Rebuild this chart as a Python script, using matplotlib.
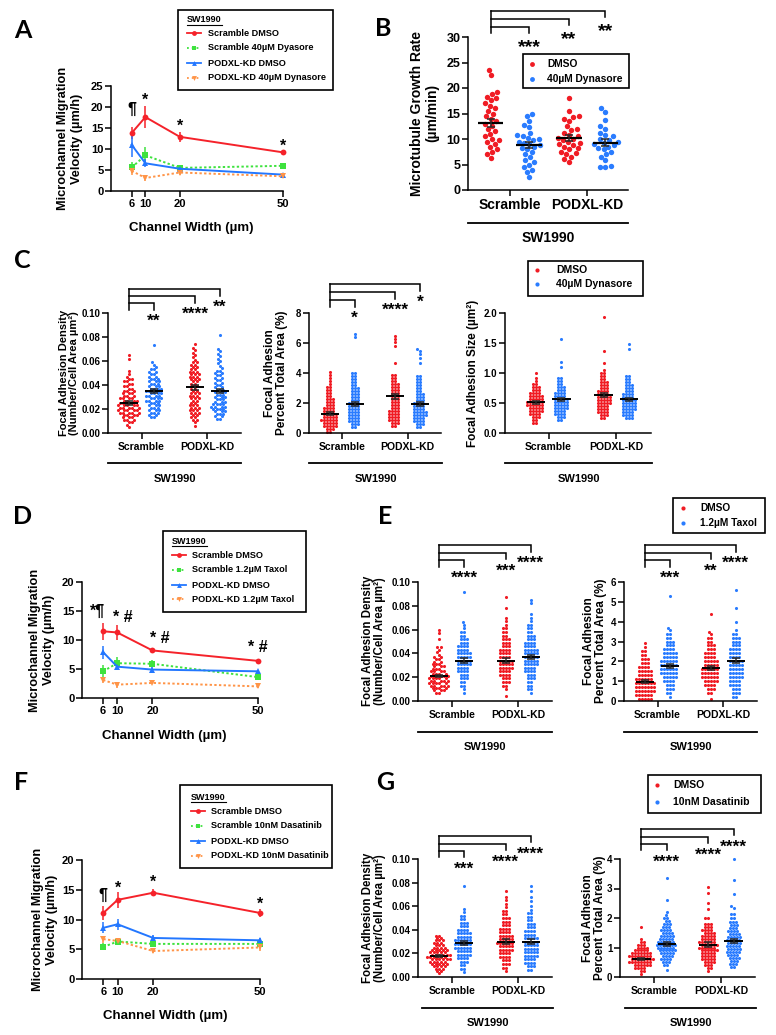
import numpy as np
import matplotlib
matplotlib.use('Agg')
import matplotlib.pyplot as plt
from matplotlib.lines import Line2D
from matplotlib.patches import Rectangle
from matplotlib.ticker import FormatStrFormatter
from matplotlib.transforms import blended_transform_factory, offset_copy

plt.rcParams['font.family'] = ['Liberation Sans', 'DejaVu Sans']
plt.rcParams['font.weight'] = 'bold'
plt.rcParams['axes.labelweight'] = 'bold'

W, H = 776, 1035

RED = '#f01c24'
BLUE = '#2a7cff'
L_RED = '#f5222a'
L_GREEN = '#3ee23e'
L_BLUE = '#2377ff'
L_ORANGE = '#ff9447'

# ---------------- line plots (A, D, F) ----------------
widths = [6, 10, 20, 50]

a_scr_dmso = [13.8, 17.6, 12.9, 9.2]
a_scr_dmso_err = [1.5, 2.6, 1.2, 0.4]
a_scr_dyn = [5.6, 8.5, 5.5, 6.0]
a_scr_dyn_err = [1.4, 2.0, 0.6, 0.5]
a_kd_dmso = [11.0, 6.6, 5.3, 3.9]
a_kd_dmso_err = [2.8, 1.0, 0.5, 0.4]
a_kd_dyn = [4.8, 3.1, 4.4, 3.5]
a_kd_dyn_err = [1.0, 0.8, 0.5, 0.4]

d_scr_dmso = [11.5, 11.3, 8.2, 6.4]
d_scr_dmso_err = [1.5, 1.3, 0.5, 0.2]
d_scr_tax = [4.6, 6.0, 5.9, 3.6]
d_scr_tax_err = [1.1, 1.0, 0.6, 0.4]
d_kd_dmso = [7.9, 5.4, 4.9, 4.6]
d_kd_dmso_err = [1.1, 0.6, 0.4, 0.2]
d_kd_tax = [3.1, 2.3, 2.6, 2.0]
d_kd_tax_err = [0.5, 0.5, 0.2, 0.2]

f_scr_dmso = [11.1, 13.3, 14.5, 11.1]
f_scr_dmso_err = [1.1, 1.3, 0.6, 0.6]
f_scr_das = [5.4, 6.3, 5.9, 5.9]
f_scr_das_err = [0.6, 0.6, 0.5, 0.5]
f_kd_dmso = [8.6, 9.2, 6.9, 6.5]
f_kd_dmso_err = [0.9, 0.9, 0.5, 0.4]
f_kd_das = [6.7, 6.4, 4.7, 5.3]
f_kd_das_err = [0.6, 0.5, 0.3, 0.6]

# ---------------- panel B (um/min, single cells) ----------------
b_scr_dmso = [23.5, 22.5, 19.2, 18.8, 18.3, 18.0, 17.6, 17.0, 16.5, 16.0, 15.5, 15.0,
              14.5, 14.0, 13.5, 13.0, 12.6, 12.0, 11.5, 11.0, 10.5, 10.0, 9.8, 9.5,
              9.0, 8.5, 8.0, 7.5, 7.0, 6.2]
b_scr_dyn = [15.0, 14.5, 13.5, 12.8, 12.3, 11.2, 10.8, 10.5, 10.2, 10.0, 9.8, 9.5, 9.2,
             9.0, 8.8, 8.5, 8.2, 8.0, 7.5, 7.0, 6.5, 5.8, 5.5, 5.0, 4.5, 4.0, 3.5, 2.5]
b_kd_dmso = [18.0, 15.5, 14.5, 14.3, 14.0, 13.5, 12.5, 12.0, 11.8, 11.2, 10.8, 10.5,
             10.2, 10.0, 9.8, 9.5, 9.2, 9.0, 8.8, 8.5, 8.2, 8.0, 7.5, 7.2, 7.0, 6.5, 6.0, 5.5]
b_kd_dyn = [16.0, 15.2, 13.8, 12.5, 12.0, 11.2, 10.8, 10.5, 10.0, 9.8, 9.5, 9.2, 9.0,
            8.8, 8.5, 8.2, 8.0, 7.5, 7.0, 6.5, 5.8, 4.8, 4.6, 4.5]
b_mean = [13.2, 8.8, 10.2, 9.3]
b_sem = [0.8, 0.6, 0.6, 0.7]

# ---------------- dot plots: value levels and dot counts at each level ----------------
# C density (x1e-3 number/um2)
c1_scr_dmso_lv = [5, 7, 9, 11, 13, 15, 17, 19, 21, 23, 25, 27, 29, 31, 33, 35, 37, 39, 41, 43, 45, 47, 49, 52, 62, 65]
c1_scr_dmso_n = [1, 1, 2, 3, 3, 4, 5, 5, 5, 5, 4, 4, 4, 3, 3, 3, 2, 2, 2, 2, 2, 1, 1, 1, 1, 1]
c1_scr_dyn_lv = [13, 15, 17, 19, 21, 23, 25, 27, 29, 31, 33, 35, 37, 39, 41, 43, 45, 47, 49, 51, 53, 55, 57, 59, 73]
c1_scr_dyn_n = [2, 2, 3, 3, 3, 3, 3, 4, 4, 4, 4, 4, 4, 3, 3, 3, 3, 2, 2, 2, 2, 1, 1, 1, 1]
c1_kd_dmso_lv = [6, 9, 11, 13, 15, 17, 19, 21, 23, 25, 27, 29, 31, 33, 35, 37, 39, 41, 43, 45, 47, 49, 51,
                 53, 55, 57, 59, 61, 63, 65, 67, 69, 71, 74]
c1_kd_dmso_n = [1, 1, 2, 2, 2, 3, 3, 3, 3, 2, 2, 3, 3, 3, 2, 2, 2, 2, 2, 3, 3, 3, 3, 2, 2, 2, 2, 1, 1, 1, 1, 1, 1, 1]
c1_kd_dyn_lv = [12, 14, 16, 18, 20, 22, 24, 26, 28, 30, 32, 34, 36, 38, 40, 42, 44, 46, 48, 50, 52, 54, 56,
                58, 60, 62, 64, 66, 68, 70, 82]
c1_kd_dyn_n = [2, 2, 3, 3, 4, 4, 4, 3, 3, 3, 3, 3, 3, 2, 2, 2, 2, 2, 2, 2, 2, 1, 1, 1, 1, 1, 1, 1, 1, 1, 1]
c1_mean = [0.025, 0.035, 0.038, 0.035]
c1_sem = [0.0015, 0.002, 0.0022, 0.002]

# C percent area (x0.1 %)
c2_scr_dmso_lv = [1, 3, 5, 7, 9, 11, 13, 15, 17, 19, 21, 23, 25, 27, 29, 31, 33, 35, 37, 39, 41]
c2_scr_dmso_n = [2, 3, 5, 5, 6, 5, 5, 4, 4, 3, 3, 3, 2, 2, 2, 2, 1, 1, 1, 1, 1]
c2_scr_dyn_lv = [4, 6, 8, 10, 12, 14, 16, 18, 20, 22, 24, 26, 28, 30, 32, 34, 36, 38, 40, 64, 66]
c2_scr_dyn_n = [2, 3, 4, 4, 4, 4, 4, 4, 4, 3, 3, 3, 3, 3, 2, 2, 2, 2, 2, 1, 1]
c2_kd_dmso_lv = [5, 7, 9, 11, 13, 15, 17, 19, 21, 23, 25, 27, 29, 31, 33, 35, 37, 39, 47, 58, 61, 63, 65]
c2_kd_dmso_n = [2, 3, 4, 4, 4, 4, 3, 3, 3, 3, 3, 3, 3, 3, 3, 2, 2, 2, 1, 1, 1, 1, 1]
c2_kd_dyn_lv = [4, 6, 8, 10, 12, 14, 16, 18, 20, 22, 24, 26, 28, 30, 32, 34, 36, 38, 47, 50, 53, 55, 56]
c2_kd_dyn_n = [2, 3, 4, 4, 5, 5, 4, 4, 4, 3, 3, 3, 2, 2, 2, 2, 2, 2, 1, 1, 1, 1, 1]
c2_mean = [1.3, 1.95, 2.45, 1.95]
c2_sem = [0.1, 0.15, 0.18, 0.15]

# C adhesion size (x0.01 um2)
c3_scr_dmso_lv = [17, 22, 27, 32, 37, 42, 47, 52, 57, 62, 67, 72, 77, 82, 87, 92, 100]
c3_scr_dmso_n = [2, 2, 3, 4, 5, 5, 6, 6, 5, 5, 4, 3, 3, 2, 1, 1, 1]
c3_scr_dyn_lv = [22, 27, 32, 37, 42, 47, 52, 57, 62, 67, 72, 77, 82, 87, 92, 110, 118, 157]
c3_scr_dyn_n = [2, 3, 4, 4, 5, 5, 5, 5, 4, 4, 3, 3, 2, 2, 2, 1, 1, 1]
c3_kd_dmso_lv = [25, 30, 35, 40, 45, 50, 55, 60, 65, 70, 75, 80, 85, 90, 95, 100, 105, 117, 137, 193]
c3_kd_dmso_n = [2, 3, 4, 4, 4, 5, 5, 5, 4, 4, 3, 3, 3, 2, 2, 2, 1, 1, 1, 1]
c3_kd_dyn_lv = [25, 30, 35, 40, 45, 50, 55, 60, 65, 70, 75, 80, 85, 90, 95, 140, 148]
c3_kd_dyn_n = [3, 4, 4, 5, 5, 5, 5, 4, 4, 3, 3, 3, 2, 2, 2, 1, 1]
c3_mean = [0.51, 0.56, 0.63, 0.56]
c3_sem = [0.02, 0.03, 0.035, 0.03]

# E density (x1e-3)
e1_scr_dmso_lv = [7, 9, 11, 13, 15, 17, 19, 21, 23, 25, 27, 29, 31, 33, 35, 37, 39, 41, 43, 45, 52, 57, 60]
e1_scr_dmso_n = [2, 3, 4, 5, 5, 5, 5, 5, 4, 4, 3, 3, 3, 2, 2, 2, 1, 1, 1, 2, 1, 1, 1]
e1_scr_tax_lv = [7, 10, 13, 16, 19, 22, 25, 28, 31, 34, 37, 40, 43, 46, 49, 52, 55, 58, 61, 64, 66, 92]
e1_scr_tax_n = [1, 1, 2, 2, 3, 3, 4, 4, 5, 5, 5, 5, 4, 4, 3, 3, 2, 2, 1, 1, 1, 1]
e1_kd_dmso_lv = [4, 10, 13, 16, 19, 22, 25, 28, 31, 34, 37, 40, 43, 46, 49, 52, 55, 58, 61, 64, 67, 70, 78, 87]
e1_kd_dmso_n = [1, 1, 2, 3, 3, 4, 4, 5, 5, 5, 4, 4, 4, 3, 3, 3, 2, 2, 2, 1, 1, 1, 1, 1]
e1_kd_tax_lv = [7, 10, 13, 16, 19, 22, 25, 28, 31, 34, 37, 40, 43, 46, 49, 52, 55, 58, 61, 64, 67, 70, 73, 82, 85]
e1_kd_tax_n = [1, 2, 2, 2, 3, 3, 4, 4, 5, 5, 5, 5, 5, 4, 4, 3, 3, 2, 2, 2, 1, 1, 1, 1, 1]
e1_mean = [0.021, 0.034, 0.034, 0.037]
e1_sem = [0.0012, 0.002, 0.002, 0.002]

# E percent area (x0.1 %)
e2_scr_dmso_lv = [1, 3, 5, 7, 9, 11, 13, 15, 17, 19, 21, 23, 25, 27, 29]
e2_scr_dmso_n = [5, 6, 7, 7, 7, 6, 5, 5, 4, 3, 3, 2, 2, 1, 1]
e2_scr_tax_lv = [2, 4, 6, 8, 10, 12, 14, 16, 18, 20, 22, 24, 26, 28, 30, 32, 34, 36, 37, 53]
e2_scr_tax_n = [1, 2, 3, 3, 4, 5, 6, 6, 6, 6, 5, 5, 4, 3, 3, 2, 2, 1, 1, 1]
e2_kd_dmso_lv = [1, 4, 6, 8, 10, 12, 14, 16, 18, 20, 22, 24, 26, 28, 30, 32, 34, 35, 44]
e2_kd_dmso_n = [1, 2, 3, 4, 5, 6, 6, 6, 5, 5, 4, 4, 3, 3, 2, 2, 1, 1, 1]
e2_kd_tax_lv = [2, 4, 6, 8, 10, 12, 14, 16, 18, 20, 22, 24, 26, 28, 30, 32, 34, 36, 40, 47, 56]
e2_kd_tax_n = [2, 3, 3, 4, 4, 5, 5, 5, 5, 5, 4, 4, 4, 3, 3, 3, 2, 1, 1, 1, 1]
e2_mean = [0.98, 1.76, 1.64, 2.04]
e2_sem = [0.07, 0.12, 0.1, 0.13]

# G density (x1e-3)
g1_scr_dmso_lv = [3, 5, 7, 9, 11, 13, 15, 17, 19, 21, 23, 25, 27, 29, 31, 33, 35]
g1_scr_dmso_n = [1, 2, 3, 4, 5, 5, 6, 6, 6, 5, 5, 4, 3, 3, 3, 2, 2]
g1_scr_das_lv = [4, 7, 10, 13, 16, 19, 22, 25, 28, 31, 34, 37, 40, 43, 46, 49, 52, 55, 58, 77]
g1_scr_das_n = [1, 2, 2, 3, 4, 5, 5, 6, 6, 6, 5, 5, 4, 3, 3, 2, 2, 1, 1, 1]
g1_kd_dmso_lv = [5, 8, 11, 14, 17, 20, 23, 26, 29, 32, 35, 38, 41, 44, 47, 50, 53, 56, 59, 62, 65, 68, 73]
g1_kd_dmso_n = [1, 2, 3, 3, 4, 4, 5, 5, 6, 5, 5, 4, 4, 3, 3, 3, 2, 2, 1, 1, 1, 1, 1]
g1_kd_das_lv = [6, 9, 12, 15, 18, 21, 24, 27, 30, 33, 36, 39, 42, 45, 48, 51, 54, 57, 60, 64, 68, 73, 77]
g1_kd_das_n = [2, 3, 4, 4, 5, 5, 5, 5, 5, 5, 4, 4, 3, 3, 2, 2, 2, 1, 1, 1, 1, 1, 1]
g1_mean = [0.018, 0.029, 0.030, 0.030]
g1_sem = [0.001, 0.0018, 0.0018, 0.0018]

# G percent area (x0.01 %)
g2_scr_dmso_lv = [10, 20, 30, 40, 50, 60, 70, 80, 90, 100, 110, 120, 130, 170]
g2_scr_dmso_n = [1, 2, 4, 6, 8, 8, 8, 7, 5, 4, 3, 2, 1, 1]
g2_scr_das_lv = [25, 40, 50, 60, 70, 80, 90, 100, 110, 120, 130, 140, 150, 160, 170, 180, 190, 200,
                 210, 220, 260, 335]
g2_scr_das_n = [1, 2, 3, 4, 4, 5, 6, 6, 7, 6, 5, 5, 4, 4, 3, 3, 2, 2, 1, 1, 1, 1]
g2_kd_dmso_lv = [20, 30, 40, 50, 60, 70, 80, 90, 100, 110, 120, 130, 140, 150, 160, 170, 180, 200,
                 230, 250, 285, 305]
g2_kd_dmso_n = [1, 2, 3, 4, 5, 5, 5, 6, 6, 6, 6, 5, 5, 4, 4, 3, 3, 2, 1, 1, 1, 1]
g2_kd_das_lv = [35, 45, 55, 65, 75, 85, 95, 105, 115, 125, 135, 145, 155, 165, 175, 185, 200, 215,
                235, 240, 280, 330, 400]
g2_kd_das_n = [2, 3, 3, 4, 4, 5, 5, 5, 5, 5, 5, 4, 4, 3, 3, 3, 2, 2, 1, 1, 1, 1, 1]
g2_mean = [0.61, 1.11, 1.10, 1.22]
g2_sem = [0.03, 0.07, 0.07, 0.08]


fig = plt.figure(figsize=(W / 100, H / 100), dpi=100)


def fx(x):
    return x / W


def fy(y):
    return 1 - y / H


def add_box(x0, x1, ytop, ybot):
    ax = fig.add_axes([fx(x0), fy(ybot), (x1 - x0) / W, (ybot - ytop) / H])
    ax.spines[['top', 'right']].set_visible(False)
    ax.spines[['left', 'bottom']].set_linewidth(1.1)
    ax.tick_params(width=1.1, length=4, pad=1.5)
    ax.patch.set_alpha(0)
    return ax


def ftext(x, y, s, fs, **kw):
    kw.setdefault('ha', 'center')
    kw.setdefault('va', 'center')
    return fig.text(fx(x), fy(y), s, fontsize=fs, **kw)


def mark(x, y, s, fs, transform):
    # place so that the glyph centre sits at y
    k = 0.58 if set(s) <= {'*'} else 0.33
    tr = offset_copy(transform, fig=fig, y=-k * fs, units='points')
    fig.text(x, y, s, fontsize=fs, ha='center', va='baseline', transform=tr)


def beeswarm(y_px, d):
    xs = np.zeros(len(y_px))
    px, py = [], []
    for i in np.argsort(y_px):
        y = y_px[i]
        cands = [0.0]
        for a, b in zip(px, py):
            dy = abs(b - y)
            if dy < d:
                dx = np.sqrt(d * d - dy * dy)
                cands += [a + dx, a - dx]
        cands.sort(key=lambda c: (round(abs(c), 3), c))
        for c in cands:
            if all((c - a) ** 2 + (y - b) ** 2 >= d * d - 1e-6 for a, b in zip(px, py)):
                break
        xs[i] = c
        px.append(c)
        py.append(y)
    return xs


def line_panel(box, series, ymax, ylabel_x, marks, xlabel_y):
    x0, x1, yt, yb = box
    ax = add_box(x0, x1, yt, yb)
    for vals, errs, color, ls, mk in series:
        ax.errorbar(widths, vals, yerr=errs, color=color, ls=ls, lw=1.4, marker=mk, ms=4.2, mew=0,
                    capsize=3, capthick=1.1, elinewidth=1.1, clip_on=False)
    ax.set_xlim(0, 50)
    ax.set_ylim(0, ymax)
    ax.set_xticks(widths)
    ax.set_yticks(np.arange(0, ymax + 1, 5))
    ax.tick_params(labelsize=8)
    for x, y, s in marks:
        mark(x, y, s, 11.5, ax.transData)
    ftext((x0 + x1) / 2 - 6, xlabel_y, 'Channel Width (µm)', 9.5)
    ftext(ylabel_x, (yt + yb) / 2, 'Microchannel Migration\nVelocity (µm/h)', 9.2, rotation=90,
          multialignment='center', linespacing=1.15)
    return ax


def line_legend(x0, x1, y0, y1, entries, hx, tx, title_y, row_y):
    fig.add_artist(Rectangle((fx(x0), fy(y1)), (x1 - x0) / W, (y1 - y0) / H, transform=fig.transFigure,
                             fill=False, lw=1.2, ec='black'))
    t = ftext(hx, title_y, 'SW1990', 6.5, ha='left')
    fig.canvas.draw()
    bb = t.get_window_extent()
    fig.add_artist(Line2D([bb.x0 / W, bb.x1 / W], [fy(title_y + 5), fy(title_y + 5)], lw=0.8, color='black'))
    for (label, color, ls, mk), y in zip(entries, row_y):
        fig.add_artist(Line2D([fx(hx), fx(hx + 14)], [fy(y), fy(y)], color=color, ls=ls, lw=1.3))
        fig.add_artist(Line2D([fx(hx + 7)], [fy(y)], color=color, marker=mk, ms=3.5, mew=0))
        ftext(tx, y, label, 6.6, ha='left')


def dot_legend(x0, x1, y0, y1, labels, dot_x, text_x, row_y, fs, ms):
    fig.add_artist(Rectangle((fx(x0), fy(y1)), (x1 - x0) / W, (y1 - y0) / H, transform=fig.transFigure,
                             fill=False, lw=1.2, ec='black'))
    for label, color, y in zip(labels, [RED, BLUE], row_y):
        fig.add_artist(Line2D([fx(dot_x)], [fy(y)], color=color, marker='o', ms=ms, mew=0, ls='none'))
        ftext(text_x, y, label, fs, ha='left')


POS = [0.0, 1.0, 2.65, 3.65]


def dot_panel(box, groups, means, sems, ymax, ystep, fmt, xlim=(-0.85, 4.5), pos=POS,
              d_px=3.0, s=5.0, hw=0.36, cat_fs=7.5, tick_fs=7, mean_lw=1.4):
    x0, x1, yt, yb = box
    ax = add_box(x0, x1, yt, yb)
    ax.set_xlim(*xlim)
    ax.set_ylim(0, ymax)
    ppx = (x1 - x0) / (xlim[1] - xlim[0])
    ppy = (yb - yt) / ymax
    for p, vals, c in zip(pos, groups, [RED, BLUE, RED, BLUE]):
        vals = np.asarray(vals, dtype=float)
        offs = beeswarm(vals * ppy, d_px) / ppx
        ax.scatter(p + offs, vals, s=s, color=c, lw=0, zorder=2, clip_on=False)
    for p, m, e in zip(pos, means, sems):
        ax.hlines(m, p - hw, p + hw, color='black', lw=mean_lw, zorder=4)
        ax.errorbar([p], [m], yerr=[e], fmt='none', ecolor='#2a2a2a', capsize=3, elinewidth=1.1,
                    capthick=1.1, zorder=4)
    ax.set_xticks([(pos[0] + pos[1]) / 2, (pos[2] + pos[3]) / 2])
    ax.set_xticklabels(['Scramble', 'PODXL-KD'], fontsize=cat_fs)
    ax.set_yticks(np.arange(0, ymax + ystep / 2, ystep))
    ax.yaxis.set_major_formatter(FormatStrFormatter(fmt))
    ax.tick_params(axis='y', labelsize=tick_fs)
    ax.tick_params(axis='x', pad=2.5)
    return ax


def brackets(ax, pos, top, gap, drop, star_gap, labels, fs):
    tr = blended_transform_factory(ax.transData, fig.transFigure)
    targets = [pos[3], pos[2], pos[1]]
    for k, (xt, lab) in enumerate(zip(targets, labels[::-1])):
        y = top + k * gap
        ax.plot([pos[0], xt, xt], [fy(y), fy(y), fy(y + drop)], transform=tr, color='black', lw=1.1,
                clip_on=False, solid_joinstyle='miter')
        mark(xt, fy(y + drop + star_gap), lab, fs, tr)
    ax.plot([pos[0], pos[0]], [fy(top), fy(top + 2 * gap + drop)], transform=tr, color='black', lw=1.1,
            clip_on=False)


def group_line(x0, x1, y_line, y_text, fs):
    fig.add_artist(Line2D([fx(x0), fx(x1)], [fy(y_line), fy(y_line)], color='black', lw=1.3))
    ftext((x0 + x1) / 2, y_text, 'SW1990', fs)


def lv(levels, counts):
    return np.repeat(levels, counts)


# ---------------- Panel A ----------------
line_panel((111, 283, 86, 191),
           [(a_scr_dmso, a_scr_dmso_err, L_RED, '-', 'o'),
            (a_scr_dyn, a_scr_dyn_err, L_GREEN, (0, (1.2, 1.2)), 's'),
            (a_kd_dmso, a_kd_dmso_err, L_BLUE, '-', '^'),
            (a_kd_dyn, a_kd_dyn_err, L_ORANGE, (0, (1.2, 1.2)), 'v')],
           25, 70, [(6, 19.5, '¶'), (10, 22.8, '*'), (20, 16.6, '*'), (50, 11.8, '*')], 228)
line_legend(178, 333, 10, 90,
            [('Scramble DMSO', L_RED, '-', 'o'), ('Scramble 40µM Dyasore', L_GREEN, ':', 's'),
             ('PODXL-KD DMSO', L_BLUE, '-', '^'), ('PODXL-KD 40µM Dynasore', L_ORANGE, ':', 'v')],
            187, 208, 20, [33, 48, 63, 78])

# ---------------- Panel B ----------------
B_POS = [0.0, 1.0, 2.05, 3.0]
axb = dot_panel((468, 628, 37, 190), [b_scr_dmso, b_scr_dyn, b_kd_dmso, b_kd_dyn], b_mean, b_sem,
                30, 5, '%d', xlim=(-0.6, 3.6), pos=B_POS, d_px=5.6, s=15, hw=0.33, cat_fs=10,
                tick_fs=9, mean_lw=1.6)
axb.tick_params(axis='x', pad=2)
ftext(425, 113, 'Microtubule Growth Rate\n(µm/min)', 10, rotation=90, multialignment='center',
      linespacing=1.1)
brackets(axb, B_POS, 11, 8, 6, 8, ['***', '**', '**'], 14)
dot_legend(523, 629, 54, 88, ['DMSO', '40µM Dynasore'], 532, 547, [64, 79], 7.4, 3.5)
group_line(468, 628, 223, 238, 10)

# ---------------- Panel C ----------------
axc1 = dot_panel((108, 241, 313, 433),
                 [lv(c1_scr_dmso_lv, c1_scr_dmso_n) / 1000, lv(c1_scr_dyn_lv, c1_scr_dyn_n) / 1000,
                  lv(c1_kd_dmso_lv, c1_kd_dmso_n) / 1000, lv(c1_kd_dyn_lv, c1_kd_dyn_n) / 1000],
                 c1_mean, c1_sem, 0.1, 0.02, '%.2f')
ftext(69, 373, 'Focal Adhesion Density\n(Number/Cell Area µm²)', 8, rotation=90, multialignment='center',
      linespacing=1.05)
brackets(axc1, POS, 289, 7, 6.5, 6.5, ['**', '****', '**'], 12.5)
group_line(108, 241, 463, 479, 8)

axc2 = dot_panel((309, 441, 313, 433),
                 [lv(c2_scr_dmso_lv, c2_scr_dmso_n) / 10, lv(c2_scr_dyn_lv, c2_scr_dyn_n) / 10,
                  lv(c2_kd_dmso_lv, c2_kd_dmso_n) / 10, lv(c2_kd_dyn_lv, c2_kd_dyn_n) / 10],
                 c2_mean, c2_sem, 8, 2, '%d')
ftext(276, 373, 'Focal Adhesion\nPercent Total Area (%)', 8.5, rotation=90, multialignment='center',
      linespacing=1.1)
brackets(axc2, POS, 284, 8, 7, 6, ['*', '****', '*'], 12.5)
group_line(309, 442, 463, 479, 8)

axc3 = dot_panel((505, 651, 313, 433),
                 [lv(c3_scr_dmso_lv, c3_scr_dmso_n) / 100, lv(c3_scr_dyn_lv, c3_scr_dyn_n) / 100,
                  lv(c3_kd_dmso_lv, c3_kd_dmso_n) / 100, lv(c3_kd_dyn_lv, c3_kd_dyn_n) / 100],
                 c3_mean, c3_sem, 2.0, 0.5, '%.1f', xlim=(-1.2, 4.5))
ftext(473, 373, 'Focal Adhesion Size (µm²)', 8.5, rotation=90)
dot_legend(528, 643, 261, 296, ['DMSO', '40µM Dynasore'], 537, 556, [270, 284], 7.5, 3)
group_line(505, 652, 463, 479, 8)

# ---------------- Panel D ----------------
line_panel((82, 258, 582, 698),
           [(d_scr_dmso, d_scr_dmso_err, L_RED, '-', 'o'),
            (d_scr_tax, d_scr_tax_err, L_GREEN, (0, (1.2, 1.2)), 's'),
            (d_kd_dmso, d_kd_dmso_err, L_BLUE, '-', '^'),
            (d_kd_tax, d_kd_tax_err, L_ORANGE, (0, (1.2, 1.2)), 'v')],
           20, 42, [(4.4, 15.0, '*¶'), (11.5, 14.0, '* #'), (22.2, 10.4, '* #'), (50.0, 8.8, '* #')], 736)
line_legend(163, 306, 531, 612,
            [('Scramble DMSO', L_RED, '-', 'o'), ('Scramble 1.2µM Taxol', L_GREEN, ':', 's'),
             ('PODXL-KD DMSO', L_BLUE, '-', '^'), ('PODXL-KD 1.2µM Taxol', L_ORANGE, ':', 'v')],
            172, 192, 541, [555, 570, 585, 599])

# ---------------- Panel E ----------------
axe1 = dot_panel((418, 552, 582, 701),
                 [lv(e1_scr_dmso_lv, e1_scr_dmso_n) / 1000, lv(e1_scr_tax_lv, e1_scr_tax_n) / 1000,
                  lv(e1_kd_dmso_lv, e1_kd_dmso_n) / 1000, lv(e1_kd_tax_lv, e1_kd_tax_n) / 1000],
                 e1_mean, e1_sem, 0.1, 0.02, '%.2f')
ftext(374, 641, 'Focal Adhesion Density\n(Number/Cell Area µm²)', 8.3, rotation=90, multialignment='center',
      linespacing=1.05)
brackets(axe1, POS, 545, 7.5, 6.5, 6.5, ['****', '***', '****'], 12.5)
group_line(418, 552, 732, 747, 8)

axe2 = dot_panel((624, 757, 582, 701),
                 [lv(e2_scr_dmso_lv, e2_scr_dmso_n) / 10, lv(e2_scr_tax_lv, e2_scr_tax_n) / 10,
                  lv(e2_kd_dmso_lv, e2_kd_dmso_n) / 10, lv(e2_kd_tax_lv, e2_kd_tax_n) / 10],
                 e2_mean, e2_sem, 6, 1, '%d')
ftext(595, 641, 'Focal Adhesion\nPercent Total Area (%)', 8.5, rotation=90, multialignment='center',
      linespacing=1.1)
brackets(axe2, POS, 545, 7.5, 6.5, 6.5, ['***', '**', '****'], 12.5)
dot_legend(673, 765, 498, 533, ['DMSO', '1.2µM Taxol'], 683, 700, [508, 523], 7.3, 3)
group_line(624, 757, 732, 747, 8)

# ---------------- Panel F ----------------
line_panel((82, 260, 860, 979),
           [(f_scr_dmso, f_scr_dmso_err, L_RED, '-', 'o'),
            (f_scr_das, f_scr_das_err, L_GREEN, (0, (1.2, 1.2)), 's'),
            (f_kd_dmso, f_kd_dmso_err, L_BLUE, '-', '^'),
            (f_kd_das, f_kd_das_err, L_ORANGE, (0, (1.2, 1.2)), 'v')],
           20, 45, [(6, 14.1, '¶'), (10, 16.1, '*'), (20, 17.0, '*'), (50, 13.4, '*')], 1016)
line_legend(180, 332, 785, 868,
            [('Scramble DMSO', L_RED, '-', 'o'), ('Scramble 10nM Dasatinib', L_GREEN, ':', 's'),
             ('PODXL-KD DMSO', L_BLUE, '-', '^'), ('PODXL-KD 10nM Dasatinib', L_ORANGE, ':', 'v')],
            191, 211, 797, [811, 826, 841, 856])

# ---------------- Panel G ----------------
axg1 = dot_panel((418, 552, 859, 977),
                 [lv(g1_scr_dmso_lv, g1_scr_dmso_n) / 1000, lv(g1_scr_das_lv, g1_scr_das_n) / 1000,
                  lv(g1_kd_dmso_lv, g1_kd_dmso_n) / 1000, lv(g1_kd_das_lv, g1_kd_das_n) / 1000],
                 g1_mean, g1_sem, 0.1, 0.02, '%.2f')
ftext(374, 918, 'Focal Adhesion Density\n(Number/Cell Area µm²)', 8.3, rotation=90, multialignment='center',
      linespacing=1.05)
brackets(axg1, POS, 836, 7.5, 6, 7, ['***', '****', '****'], 12.5)
group_line(422, 553, 1008, 1023, 8)

axg2 = dot_panel((620, 755, 859, 977),
                 [lv(g2_scr_dmso_lv, g2_scr_dmso_n) / 100, lv(g2_scr_das_lv, g2_scr_das_n) / 100,
                  lv(g2_kd_dmso_lv, g2_kd_dmso_n) / 100, lv(g2_kd_das_lv, g2_kd_das_n) / 100],
                 g2_mean, g2_sem, 4, 1, '%d')
ftext(594, 918, 'Focal Adhesion\nPercent Total Area (%)', 8.5, rotation=90, multialignment='center',
      linespacing=1.1)
brackets(axg2, POS, 829, 7.5, 6, 7, ['****', '****', '****'], 12.5)
dot_legend(648, 761, 775, 813, ['DMSO', '10nM Dasatinib'], 657, 673, [785, 802], 7.5, 3)
group_line(625, 756, 1008, 1023, 8)

# ---------------- panel letters ----------------
for letter, x, y in [('A', 23, 30), ('B', 383, 28), ('C', 22, 260), ('D', 23, 516),
                     ('E', 385, 517), ('F', 21, 782), ('G', 385, 783)]:
    ftext(x, y, letter, 18, family=['Lato', 'DejaVu Sans'])

fig.savefig('out.png', dpi=100)
